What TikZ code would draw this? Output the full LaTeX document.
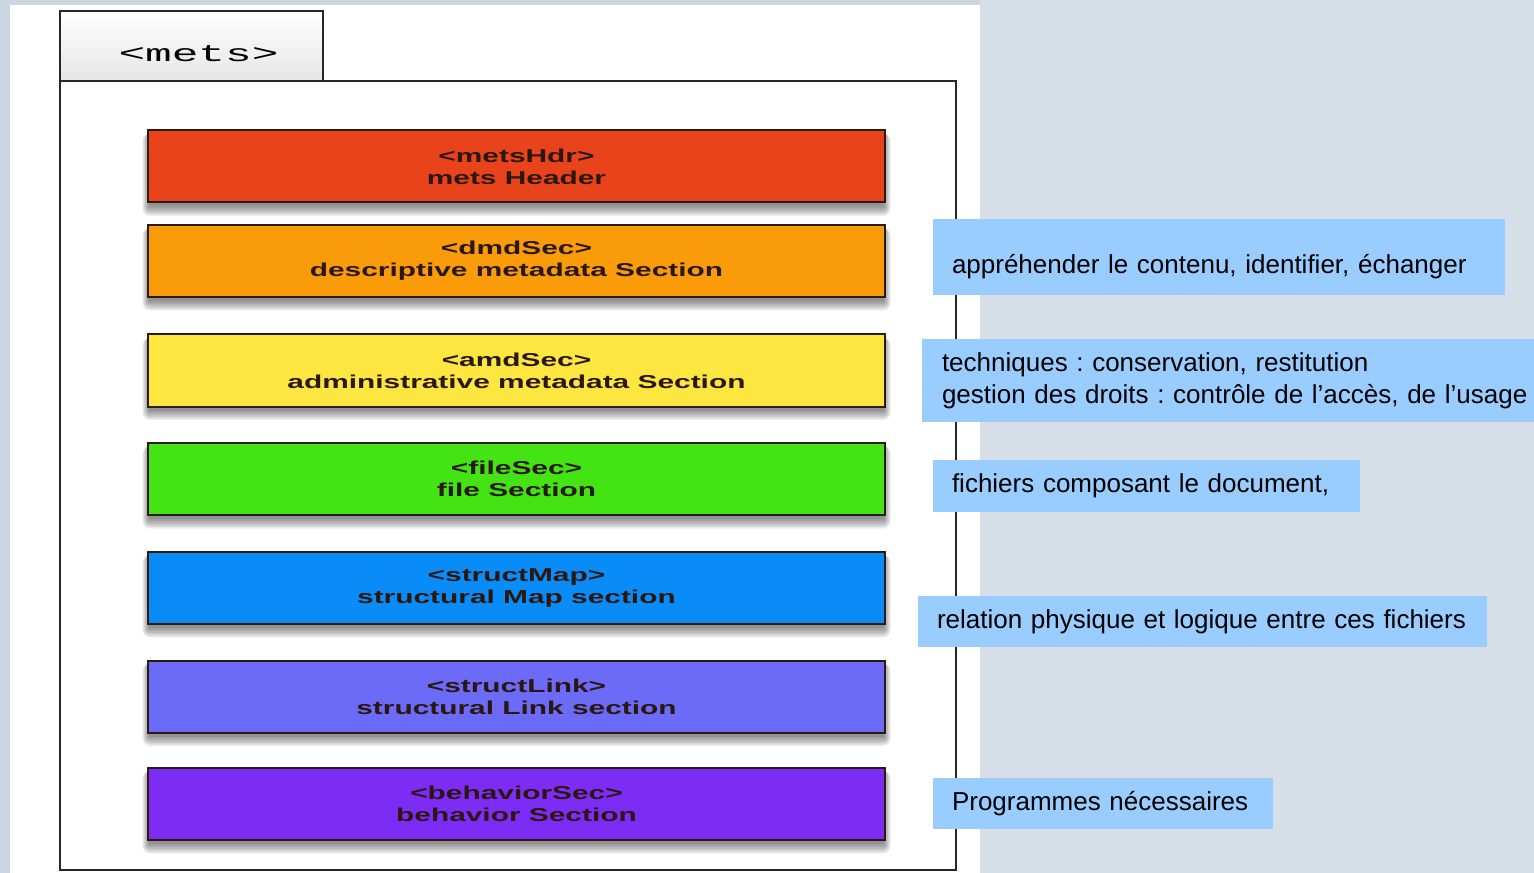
\documentclass[tikz,border=0pt]{standalone}
\usepackage{fontspec}
\setmainfont{Liberation Sans}
\newfontfamily\monofont{Liberation Mono}
\usepackage{graphicx}
\usetikzlibrary{calc}
\frenchspacing
\definecolor{bgblue}{HTML}{CBD6E3}
\definecolor{bgright}{HTML}{D6DEE8}
\definecolor{labblue}{HTML}{99CCFF}
\definecolor{cred}{HTML}{E8431A}
\definecolor{corange}{HTML}{FA9C0A}
\definecolor{cyellow}{HTML}{FDE640}
\definecolor{cgreen}{HTML}{44E414}
\definecolor{cblue}{HTML}{0A8CF8}
\definecolor{cperi}{HTML}{6B6BF8}
\definecolor{cpurple}{HTML}{7D2CF6}
\definecolor{boxline}{HTML}{2A1A10}
\definecolor{boxtext}{HTML}{2A1810}
\newcommand{\wide}[1]{\scalebox{1.6}[1]{#1}}
\pgfdeclarelayer{back}
\pgfdeclarelayer{shade}
\pgfsetlayers{back,shade,main}
\tikzset{
  secbox/.style={draw=boxline, line width=1.5pt, minimum width=552.75pt, minimum height=54pt,
    align=center, text=boxtext, font=\bfseries\fontsize{14}{16.5}\selectfont},
  labelbox/.style={fill=labblue, inner xsep=14.25pt, inner ysep=0pt, align=left,
    font=\fontsize{19.5}{24}\selectfont, text=black},
  tabbox/.style={draw=black!85, line width=1.2pt, minimum width=197.25pt, minimum height=52.5pt,
    top color=white, bottom color=black!10, font=\monofont\fontsize{18}{20}\selectfont},
  framebox/.style={draw=black!85, line width=1.6pt, minimum width=672pt, minimum height=591.75pt},
  softshade/.style={fill=black, opacity=0.075}
}
\begin{document}
\begin{tikzpicture}[x=0.75pt,y=-0.75pt]
\useasboundingbox (0,0) rectangle (1534,873);
\begin{pgfonlayer}{back}
\fill[bgblue] (0,0) rectangle (1534,873);
\fill[bgright] (980,0) rectangle (1534,873);
\fill[white] (10,5) rectangle (980,873);
\end{pgfonlayer}
% frame and tab
\node[framebox] (frame) at (508,475.5) {};
\node[tabbox] (tab) at (191.5,46) {\hspace*{10.5pt}\raisebox{-11.5pt}[0pt][0pt]{\scalebox{1.85}[1]{<mets>}}};
% sections
\node[secbox, fill=cred] (hdr) at (516.5,166.5) {\wide{<metsHdr>}\\\wide{mets Header}};
\node[secbox, fill=corange] (dmd) at (516.5,261) {\wide{<dmdSec>}\\\wide{descriptive metadata Section}};
\node[secbox, fill=cyellow] (amd) at (516.5,370.5) {\wide{<amdSec>}\\\wide{administrative metadata Section}};
\node[secbox, fill=cgreen] (file) at (516.5,479) {\wide{<fileSec>}\\\wide{file Section}};
\node[secbox, fill=cblue] (smap) at (516.5,588) {\wide{<structMap>}\\\wide{structural Map section}};
\node[secbox, fill=cperi] (slink) at (516.5,696.5) {\wide{<structLink>}\\\wide{structural Link section}};
\node[secbox, fill=cpurple] (behav) at (516.5,804) {\wide{<behaviorSec>}\\\wide{behavior Section}};
% soft shadows
\begin{pgfonlayer}{shade}
\foreach \b in {hdr,dmd,amd,file,smap,slink,behav}{
  \foreach \k in {0,1,2,3,4,5,6}{
    \fill[softshade, rounded corners=\k pt] ($(\b.north west)+(-\k*1.1+2,4)$) rectangle ($(\b.south east)+(\k*1.1-2,3+\k*1.6)$);
  }
}
\end{pgfonlayer}
% labels
\node[labelbox, minimum width=429pt, minimum height=57pt, text width=400.5pt, text height=29pt] (l1) at (1219,257) {appréhender le contenu, identifier, échanger};
\node[labelbox, minimum width=459pt, minimum height=62.25pt, inner xsep=15pt, text width=429pt] (l2) at (1228,380.5) {\mbox{techniques : conservation, restitution}\\\mbox{gestion des droits : contrôle de l’accès, de l’usage}};
\node[labelbox, minimum width=320.25pt, minimum height=39pt, text width=291.75pt] (l3) at (1146.5,486) {fichiers composant le document,};
\node[labelbox, minimum width=426.75pt, minimum height=38.25pt, text width=398.25pt] (l4) at (1202.5,621.5) {relation physique et logique entre ces fichiers};
\node[labelbox, minimum width=255pt, minimum height=38.25pt, text width=226.5pt] (l5) at (1103,803.5) {Programmes nécessaires};
\end{tikzpicture}
\end{document}
